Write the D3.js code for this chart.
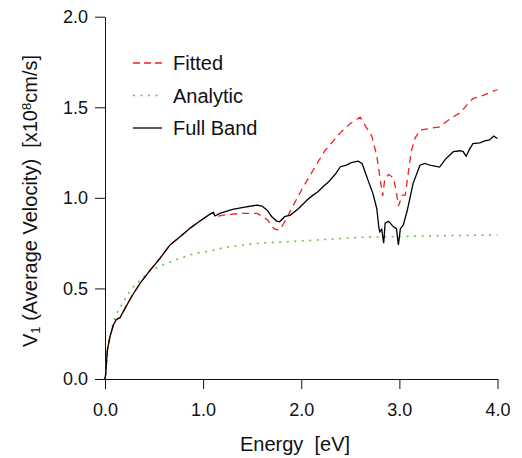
<!DOCTYPE html>
<html>
<head>
<meta charset="utf-8">
<script src="https://d3js.org/d3.v7.min.js"></script>
<style>
  body { margin: 0; background: #fff; }
  text { font-family: "Liberation Sans", Arial, sans-serif; fill: #111; white-space: pre; }
</style>
</head>
<body>
<script>
// Full band (black)
var fullE = [0, 0.008, 0.012, 0.024, 0.05, 0.085, 0.112, 0.136, 0.153, 0.204, 0.27, 0.357, 0.459, 0.56, 0.663, 0.765, 0.866, 0.968, 1.07, 1.104, 1.12, 1.17, 1.30, 1.41, 1.55, 1.60, 1.65, 1.70, 1.75, 1.78, 1.83, 1.89, 1.97, 2.06, 2.12, 2.17, 2.23, 2.28, 2.34, 2.40, 2.46, 2.51, 2.58, 2.62, 2.65, 2.68, 2.73, 2.77, 2.79, 2.80, 2.82, 2.84, 2.855, 2.89, 2.94, 2.97, 2.99, 3.01, 3.04, 3.08, 3.14, 3.21, 3.26, 3.31, 3.41, 3.47, 3.55, 3.62, 3.65, 3.68, 3.72, 3.75, 3.82, 3.87, 3.92, 3.96, 4.0];
var fullV = [0, 0.03, 0.068, 0.16, 0.233, 0.298, 0.326, 0.335, 0.338, 0.39, 0.454, 0.528, 0.60, 0.666, 0.74, 0.785, 0.832, 0.872, 0.91, 0.92, 0.90, 0.914, 0.936, 0.947, 0.96, 0.955, 0.933, 0.896, 0.872, 0.868, 0.896, 0.905, 0.94, 0.988, 1.015, 1.034, 1.065, 1.089, 1.126, 1.172, 1.181, 1.194, 1.203, 1.19, 1.144, 1.098, 1.025, 0.94, 0.84, 0.813, 0.826, 0.75, 0.86, 0.87, 0.84, 0.83, 0.74, 0.83, 0.85, 0.93, 1.08, 1.18, 1.19, 1.18, 1.17, 1.214, 1.255, 1.26, 1.255, 1.23, 1.273, 1.30, 1.304, 1.315, 1.32, 1.341, 1.328];

// Fitted (red dashed)
var fitE = [0, 0.008, 0.012, 0.024, 0.05, 0.085, 0.112, 0.136, 0.153, 0.204, 0.27, 0.357, 0.459, 0.56, 0.663, 0.765, 0.866, 0.968, 1.07, 1.104, 1.12, 1.21, 1.38, 1.55, 1.61, 1.66, 1.72, 1.77, 1.80, 1.85, 1.92, 2.02, 2.14, 2.24, 2.40, 2.50, 2.60, 2.65, 2.72, 2.77, 2.80, 2.83, 2.85, 2.89, 2.94, 2.97, 2.99, 3.03, 3.06, 3.12, 3.16, 3.21, 3.31, 3.41, 3.52, 3.62, 3.70, 3.75, 3.86, 3.98, 4.0];
var fitV = [0, 0.03, 0.068, 0.16, 0.233, 0.298, 0.326, 0.335, 0.338, 0.39, 0.454, 0.528, 0.60, 0.666, 0.74, 0.785, 0.832, 0.872, 0.91, 0.92, 0.896, 0.905, 0.914, 0.914, 0.896, 0.877, 0.83, 0.822, 0.84, 0.886, 0.96, 1.06, 1.17, 1.26, 1.36, 1.41, 1.445, 1.40, 1.34, 1.23, 1.12, 1.01, 1.10, 1.13, 1.11, 1.03, 0.955, 1.015, 1.015, 1.255, 1.33, 1.374, 1.383, 1.392, 1.438, 1.47, 1.52, 1.548, 1.567, 1.594, 1.597];

// Analytic (green dotted)
var anaE = [0, 0.01, 0.034, 0.085, 0.12, 0.17, 0.24, 0.29, 0.357, 0.459, 0.543, 0.61, 0.765, 0.917, 1.07, 1.22, 1.58, 2.0, 2.6, 3.3, 4.0];
var anaV = [0, 0.06, 0.19, 0.316, 0.362, 0.41, 0.473, 0.51, 0.543, 0.598, 0.616, 0.635, 0.666, 0.694, 0.706, 0.727, 0.75, 0.762, 0.782, 0.79, 0.795];

var xTicks = [0, 1, 2, 3, 4];
var yTicks = [0, 0.5, 1.0, 1.5, 2.0];
var legendNames = ["Fitted", "Analytic", "Full Band"];

var w = 522, h = 458;
var svg = d3.select("body").append("svg").attr("width", w).attr("height", h);

var x = d3.scaleLinear().domain([0, 4]).range([105, 497.5]);
var y = d3.scaleLinear().domain([0, 2]).range([379, 16.7]);

svg.append("g").attr("transform", "translate(0," + y(0) + ")")
  .call(d3.axisBottom(x).tickValues(xTicks).tickFormat(d3.format(".1f")).tickSize(10).tickPadding(14).tickSizeOuter(0));
svg.append("g").attr("transform", "translate(" + x(0) + ",0)")
  .call(d3.axisLeft(y).tickValues(yTicks).tickFormat(d3.format(".1f")).tickSize(10).tickPadding(7).tickSizeOuter(0));
svg.selectAll(".domain, .tick line").attr("stroke", "#111").attr("stroke-width", 1);
svg.selectAll(".tick text").style("font-size", "18px").attr("fill", "#111");

function pairs(E, V) { return E.map(function(e, i) { return [e, V[i]]; }); }
var line = d3.line().x(function(d) { return x(d[0]); }).y(function(d) { return y(d[1]); });

var series = [
  { name: "Analytic", data: pairs(anaE, anaV), color: "#6cc04a", dash: "2,5.5", width: 1.6 },
  { name: "Fitted", data: pairs(fitE, fitV), color: "#f02020", dash: "7,5", width: 1.3 },
  { name: "Full Band", data: pairs(fullE, fullV), color: "#000", dash: null, width: 1.3 }
];

svg.selectAll("path.series").data(series).enter().append("path")
  .attr("class", "series")
  .attr("d", function(d) { return line(d.data); })
  .attr("fill", "none")
  .attr("stroke", function(d) { return d.color; })
  .attr("stroke-width", function(d) { return d.width; })
  .attr("stroke-dasharray", function(d) { return d.dash; });

// legend
var leg = svg.append("g");
legendNames.forEach(function(n, i) {
  var s = series.filter(function(d) { return d.name === n; })[0];
  var yy = 63 + i * 32.5;
  leg.append("line").attr("x1", 133).attr("x2", 162).attr("y1", yy).attr("y2", yy)
    .attr("stroke", s.color).attr("stroke-width", s.width)
    .attr("stroke-dasharray", s.name === "Fitted" ? "7,4" : s.dash);
  leg.append("text").attr("x", 173).attr("y", yy + 7).style("font-size", "20px").text(n);
});

// axis titles
svg.append("text").attr("x", 295).attr("y", 451).attr("text-anchor", "middle")
  .style("font-size", "20px").text("Energy  [eV]");

var yl = svg.append("text").attr("transform", "translate(37,201) rotate(-90)")
  .attr("text-anchor", "middle").style("font-size", "20px");
yl.append("tspan").text("V");
yl.append("tspan").attr("baseline-shift", "-25%").style("font-size", "13px").text("1");
yl.append("tspan").text(" (Average Velocity)  [x10");
yl.append("tspan").attr("baseline-shift", "45%").style("font-size", "13px").text("8");
yl.append("tspan").text("cm/s]");
</script>
</body>
</html>
